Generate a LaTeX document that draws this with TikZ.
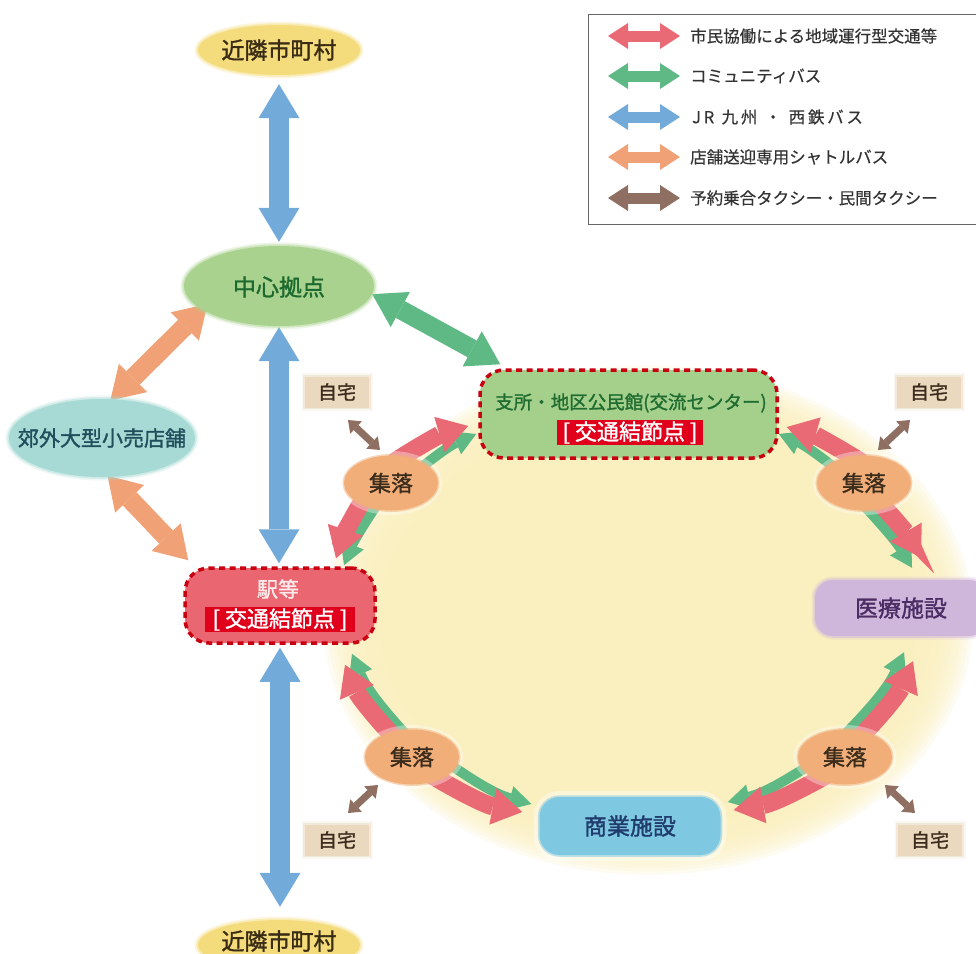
\documentclass[tikz,border=0pt]{standalone}
\usepackage{fontspec}
\setmainfont{Noto Sans CJK JP}
\newfontfamily\jpb{Noto Sans CJK JP}[FakeBold=1.4]
\newfontfamily\jpl{Noto Sans CJK JP}[FakeBold=0.4]
\usetikzlibrary{shapes.geometric,arrows.meta,calc}
\pgfdeclarelayer{glow}\pgfdeclarelayer{bg}
\pgfsetlayers{glow,bg,main}
\definecolor{kinY}{HTML}{F4DC7C}
\definecolor{kinT}{HTML}{3A2C14}
\definecolor{chuG}{HTML}{A9D28F}
\definecolor{chuT}{HTML}{1D6A2E}
\definecolor{kouF}{HTML}{A7DAD4}
\definecolor{kouT}{HTML}{214E5C}
\definecolor{ekiR}{HTML}{EA6670}
\definecolor{ekiT}{HTML}{FDEAEA}
\definecolor{dashred}{HTML}{C8000F}
\definecolor{tagred}{HTML}{E1001B}
\definecolor{shG}{HTML}{A5D08B}
\definecolor{shT}{HTML}{1F6C30}
\definecolor{jitF}{HTML}{EAD8BF}
\definecolor{darkT}{HTML}{3B2C1C}
\definecolor{shuF}{HTML}{F1AE79}
\definecolor{iryoF}{HTML}{CFB7DB}
\definecolor{iryoT}{HTML}{4B2C64}
\definecolor{shoF}{HTML}{7FC8E2}
\definecolor{shoT}{HTML}{203C6C}
\definecolor{cred}{HTML}{E96A74}
\definecolor{cgreen}{HTML}{5EB985}
\definecolor{cblue}{HTML}{72AADA}
\definecolor{corange}{HTML}{F0A276}
\definecolor{cbrown}{HTML}{8E6F61}
\definecolor{glowy}{HTML}{FAEFBE}
\definecolor{legline}{HTML}{666666}
\definecolor{legT}{HTML}{333333}
\newcommand\jfs[1]{\fontsize{#1pt}{#1pt}\selectfont}
\begin{document}
\begin{tikzpicture}[x=1pt,y=-1pt,
  ell/.style={ellipse, inner sep=0pt},
  soft/.style={preaction={draw=#1, line width=7pt, opacity=0.22}, preaction={draw=#1, line width=3.5pt, opacity=0.45}},
  lab/.style={inner sep=0pt},
  kinnode/.style={ell, fill=kinY, soft=kinY, minimum width=162pt, minimum height=50pt},
  kinlab/.style={lab, text=kinT, font=\jfs{23}\jpb},
  hubbox/.style={rectangle, rounded corners=24pt, draw=dashred, line width=3.5pt, dash pattern=on 6pt off 4.5pt},
  tagbox/.style={rectangle, fill=tagred, text=white, inner sep=0pt, font=\jfs{22}\jpb},
  jitaku/.style={rectangle, fill=jitF, soft=jitF, text=darkT, minimum width=64pt, minimum height=31pt, inner sep=0pt, font=\jfs{19}\jpb},
  shuraku/.style={ell, fill=shuF, text=darkT, minimum width=94pt, minimum height=55pt, font=\jfs{22}\jpb,
     preaction={draw=white, line width=9pt, opacity=0.35}, preaction={draw=shuF, line width=3pt, opacity=0.5}},
  blueArr/.style={draw=cblue, line width=20pt, {Triangle[width=41pt,length=34pt,line width=0pt]}-{Triangle[width=41pt,length=34pt,line width=0pt]}},
  orArr/.style={draw=corange, line width=19pt, {Triangle[width=40pt,length=32pt,line width=0pt]}-{Triangle[width=40pt,length=32pt,line width=0pt]}},
  grArr/.style={draw=cgreen, line width=19pt, {Triangle[width=40pt,length=32pt,line width=0pt]}-{Triangle[width=40pt,length=32pt,line width=0pt]}},
  redOne/.style={draw=cred, line width=18pt, shorten <=-14pt, -{Triangle[width=37pt,length=30pt,line width=0pt]}},
  grnOne/.style={draw=cgreen, line width=10pt, shorten <=-14pt, -{Triangle[width=25pt,length=22pt,line width=0pt]}},
  brArr/.style={draw=cbrown, line width=7pt, {Triangle[width=17pt,length=11pt,line width=0pt]}-{Triangle[width=17pt,length=11pt,line width=0pt]}},
  legArr/.style={line width=11pt, {Triangle[width=26pt,length=20pt,line width=0pt]}-{Triangle[width=26pt,length=20pt,line width=0pt]}},
  legText/.style={anchor=west, inner sep=0pt, text=legT, font=\jfs{16.5}\jpl}
]
\useasboundingbox (0,0) rectangle (976,953);
\clip (0,0) rectangle (976,953);

% background glow
\begin{pgfonlayer}{glow}
\foreach \i in {0,...,13} {
  \fill[glowy, opacity=0.2] (648,620) ellipse ({325-4*\i} and {255-3.4*\i});
}
\fill[glowy] (648,620) ellipse (268 and 208);
\end{pgfonlayer}

% legend
\node[draw=legline, line width=1.2pt, minimum width=400pt, minimum height=210pt, anchor=north west, inner sep=0pt] (legend) at (588,14) {};
\coordinate (la1) at (608,36);  \coordinate (lb1) at (680,36);
\coordinate (la2) at (608,76);  \coordinate (lb2) at (680,76);
\coordinate (la3) at (608,117); \coordinate (lb3) at (680,117);
\coordinate (la4) at (608,157); \coordinate (lb4) at (680,157);
\coordinate (la5) at (608,198); \coordinate (lb5) at (680,198);
\draw[legArr, draw=cred] (la1) -- (lb1);
\draw[legArr, draw=cgreen] (la2) -- (lb2);
\draw[legArr, draw=cblue] (la3) -- (lb3);
\draw[legArr, draw=corange] (la4) -- (lb4);
\draw[legArr, draw=cbrown] (la5) -- (lb5);
\node[legText] (lt1) at (690,36) {市民協働による地域運行型交通等};
\node[legText] (lt2) at (690,76) {コミュニティバス};
\node[legText] (lt3) at (692,117) {J\,R\ \ 九\,州\ \ ・\ \ 西\,鉄\,バ\,ス};
\node[legText] (lt4) at (690,157) {店舗送迎専用シャトルバス};
\node[legText] (lt5) at (690,198) {予約乗合タクシー・民間タクシー};

% main nodes
\node[kinnode] (kinT) at (279,50) {};
\node[kinlab] (kinTL) at (279,50) {近隣市町村};
\node[ell, fill=chuG, soft=chuG, minimum width=190pt, minimum height=80pt] (chushin) at (279,286) {};
\node[lab, text=chuT, font=\jfs{23}\jpb] (chushinL) at (279,287) {中心拠点};
\node[ell, fill=kouF, soft=kouF, minimum width=186pt, minimum height=78pt] (kougai) at (102,438) {};
\node[lab, text=kouT, font=\jfs{21}\jpb] (kougaiL) at (102,438) {郊外大型小売店舗};
\node[hubbox, fill=ekiR, minimum width=190pt, minimum height=75pt] (eki) at (280,605.5) {};
\node[lab, text=ekiT, font=\jfs{21}\jpb] (ekiL) at (278,589) {駅等};
\node[tagbox, minimum width=150pt, minimum height=25pt] (ekiTag) at (280,619.5) {[\hspace{5pt}交通結節点\hspace{5pt}]};
\node[kinnode] (kinB) at (279,945) {};
\node[kinlab] (kinBL) at (279,941) {近隣市町村};

\node[hubbox, fill=shG, minimum width=297pt, minimum height=88pt] (shisho) at (628.5,414) {};
\node[lab, text=shT, font=\jfs{18.5}\jpb] (shishoL) at (631,403) {支所・地区公民館(交流センター)};
\node[tagbox, minimum width=146pt, minimum height=25pt] (shishoTag) at (630,432.5) {[\hspace{5pt}交通結節点\hspace{5pt}]};

\node[rectangle, rounded corners=18pt, fill=iryoF, soft=iryoF, text=iryoT, minimum width=172pt, minimum height=56pt, font=\jfs{23}\jpb] (iryo) at (901,608) {医療施設};
\node[rectangle, rounded corners=20pt, fill=shoF, text=shoT, minimum width=181pt, minimum height=58pt, font=\jfs{23}\jpb,
  preaction={draw=white, line width=12pt, opacity=0.4}, preaction={draw=shoF, line width=3.5pt, opacity=0.5}] (shogyo) at (630,826) {商業施設};

\node[shuraku] (s1) at (391,483) {集落};
\node[shuraku] (s2) at (864,483) {集落};
\node[shuraku] (s3) at (412,757) {集落};
\node[shuraku] (s4) at (845,757) {集落};

\node[jitaku] (j1) at (337,392) {自宅};
\node[jitaku] (j2) at (929,392) {自宅};
\node[jitaku] (j3) at (337,840) {自宅};
\node[jitaku] (j4) at (930,840) {自宅};

% connectors
\begin{pgfonlayer}{bg}
\draw[blueArr, shorten <=9pt, shorten >=4pt] (kinT.south) -- (kinT.south |- chushin.north);
\draw[blueArr, shorten <=1pt, shorten >=3pt] (chushin.south) -- (chushin.south |- eki.north);
\draw[blueArr, shorten <=3pt, shorten >=13pt] (eki.south) -- (eki.south |- kinB.north);

\draw[orArr, shorten <=-8pt, shorten >=-2pt] (chushin.197) -- (kougai.76);
\draw[orArr, shorten <=-2pt] (kougai.-80) -- ($(eki.north west)+(5,-6)$);
\draw[grArr] (chushin.-5) -- ($(shisho.north west)+(22,-4)$);

% s1
\draw[grnOne] ($(s1)+(27,-13)$) to[bend left=8] ($(shisho.west)+(-2,20)$);
\draw[redOne] ($(s1)+(14,-28)$) to[bend left=8] ($(shisho.west)+(-10,12)$);
\draw[grnOne] ($(s1)+(-19,29)$) to[bend right=6] ($(eki.north)+(64,-1)$);
\draw[redOne] ($(s1)+(-31,22)$) to[bend right=6] ($(eki.north)+(56,-8)$);
% s2
\draw[grnOne] ($(s2)+(-29,-15)$) to[bend right=8] ($(shisho.east)+(0,20)$);
\draw[redOne] ($(s2)+(-14,-28)$) to[bend right=8] ($(shisho.east)+(8,13)$);
\draw[grnOne] ($(s2)+(6,29)$) to[bend left=6] ($(iryo.north)+(11,-12)$);
\draw[redOne] ($(s2)+(18,22)$) to[bend left=6] ($(iryo.north)+(20,-22)$);
% s3
\draw[grnOne] ($(s3)+(-12,-29)$) to[bend left=10] ($(eki.south)+(72,9)$);
\draw[redOne] ($(s3)+(-22,-24)$) to[bend left=10] ($(eki.south)+(65,20)$);
\draw[grnOne] ($(s3)+(43,11)$) to[bend right=10] ($(shogyo.west)+(-8,-22)$);
\draw[redOne] ($(s3)+(31,25)$) to[bend right=10] ($(shogyo.west)+(-17,-14)$);
% s4
\draw[grnOne] ($(s4)+(10,-33)$) to[bend right=10] ($(iryo.south)+(3,16)$);
\draw[redOne] ($(s4)+(22,-27)$) to[bend right=10] ($(iryo.south)+(12,25)$);
\draw[grnOne] ($(s4)+(-40,11)$) to[bend left=10] ($(shogyo.east)+(7,-24)$);
\draw[redOne] ($(s4)+(-27,23)$) to[bend left=10] ($(shogyo.east)+(13,-16)$);

% homes
\draw[brArr] ($(j1)+(11,28)$) -- ($(s1)+(-11,-33)$);
\draw[brArr] ($(j2)+(-19,28)$) -- ($(s2)+(14,-33)$);
\draw[brArr] ($(j3)+(11,-27)$) -- ($(s3)+(-34,28)$);
\draw[brArr] ($(j4)+(-15,-27)$) -- ($(s4)+(40,28)$);
\end{pgfonlayer}
\end{tikzpicture}
\end{document}
